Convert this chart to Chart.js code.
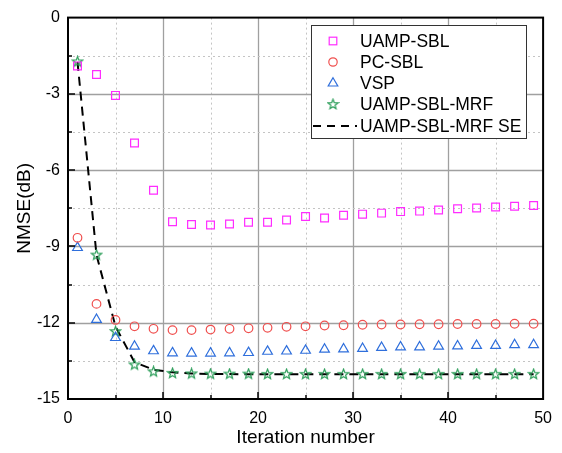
<!DOCTYPE html>
<html>
<head>
<meta charset="utf-8">
<script src="https://cdn.jsdelivr.net/npm/chart.js@4.4.1/dist/chart.umd.min.js"></script>
<style>
  html, body { margin: 0; padding: 0; background: #fff; }
</style>
</head>
<body>
<canvas id="nmseChart" width="562" height="453"></canvas>
<script>
// iterations (odd steps only) and NMSE in dB per algorithm
const iterations = [1, 3, 5, 7, 9, 11, 13, 15, 17, 19, 21, 23, 25, 27, 29, 31, 33, 35, 37, 39, 41, 43, 45, 47, 49];
const uampSbl = [-1.90, -2.24, -3.06, -4.93, -6.79, -8.03, -8.14, -8.16, -8.12, -8.05, -8.05, -7.96, -7.82,
                 -7.88, -7.77, -7.73, -7.69, -7.63, -7.61, -7.57, -7.52, -7.49, -7.45, -7.42, -7.39];
const pcSbl = [-8.66, -11.26, -11.89, -12.14, -12.24, -12.29, -12.29, -12.27, -12.24, -12.22, -12.20, -12.16, -12.14,
               -12.11, -12.10, -12.08, -12.07, -12.07, -12.06, -12.06, -12.05, -12.05, -12.05, -12.04, -12.04];
const vsp = [-9.05, -11.88, -12.59, -12.93, -13.11, -13.19, -13.20, -13.20, -13.19, -13.18, -13.13, -13.12, -13.09,
             -13.05, -13.04, -13.02, -12.98, -12.96, -12.96, -12.93, -12.92, -12.90, -12.90, -12.87, -12.87];
const uampSblMrf = [-1.74, -9.34, -12.35, -13.66, -13.93, -13.99, -14.01, -14.02, -14.02, -14.02, -14.03, -14.03, -14.03,
                    -14.03, -14.03, -14.03, -14.03, -14.03, -14.03, -14.03, -14.03, -14.03, -14.03, -14.03, -14.03];
const uampSblMrfSe = [-1.74, -9.34, -12.15, -13.55, -13.85, -13.95, -14.00, -14.02, -14.02, -14.03, -14.03, -14.03, -14.03,
                      -14.03, -14.03, -14.03, -14.03, -14.03, -14.03, -14.03, -14.03, -14.03, -14.03, -14.03, -14.03];

const xTicks = [0, 10, 20, 30, 40, 50];
const yTicks = [-15, -12, -9, -6, -3, 0];

const FONT = "'Liberation Sans', Arial, sans-serif";
const MAGENTA = '#ff2cff';
const RED = '#f0504f';
const BLUE = '#2f6fdc';
const GREEN = '#2a9d58';

// hollow five-pointed star, Chart.js only has the asterisk kind
function makeStar(size, rOut, rIn, color) {
  const c = document.createElement('canvas');
  c.width = size; c.height = size;
  const g = c.getContext('2d');
  g.strokeStyle = color;
  g.lineWidth = 1.2;
  g.beginPath();
  for (let i = 0; i < 10; i++) {
    const r = i % 2 ? rIn : rOut;
    const a = -Math.PI / 2 + i * Math.PI / 5;
    const px = size / 2 + r * Math.cos(a), py = size / 2 + r * Math.sin(a);
    i ? g.lineTo(px, py) : g.moveTo(px, py);
  }
  g.closePath();
  g.stroke();
  return c;
}
const starImg = makeStar(13, 5.2, 2.2, GREEN);

const pts = ys => iterations.map((x, i) => ({ x: x, y: ys[i] }));

function markerSet(label, ys, style, color, radius) {
  return {
    label: label,
    data: pts(ys),
    showLine: false,
    pointStyle: style,
    pointRadius: radius,
    pointHoverRadius: radius,
    borderColor: color,
    backgroundColor: 'rgba(0,0,0,0)',
    pointBorderWidth: 1.2
  };
}

const datasets = [
  {
    label: 'UAMP-SBL-MRF SE',
    data: pts(uampSblMrfSe),
    showLine: true,
    borderColor: '#000',
    borderWidth: 2,
    borderDash: [9, 6],
    pointRadius: 0,
    order: 5
  },
  markerSet('UAMP-SBL', uampSbl, 'rect', MAGENTA, 5.5),
  markerSet('PC-SBL', pcSbl, 'circle', RED, 4.3),
  markerSet('VSP', vsp, 'triangle', BLUE, 5.6),
  markerSet('UAMP-SBL-MRF', uampSblMrf, starImg, GREEN, 5)
];

// grid: solid at labelled ticks, dotted halfway between
const gridPlugin = {
  id: 'gridLines',
  beforeDatasetsDraw(chart) {
    const { ctx, chartArea: a, scales: { x, y } } = chart;
    ctx.save();
    for (let v = 5; v < 50; v += 5) {
      const px = Math.round(x.getPixelForValue(v)) + 0.5;
      const major = v % 10 === 0;
      ctx.strokeStyle = major ? '#a0a0a0' : '#c4c4c4';
      ctx.lineWidth = major ? 1.3 : 1;
      ctx.setLineDash(major ? [] : [2, 3]);
      ctx.beginPath(); ctx.moveTo(px, a.top); ctx.lineTo(px, a.bottom); ctx.stroke();
    }
    for (let v = -13.5; v < 0; v += 1.5) {
      const py = Math.round(y.getPixelForValue(v)) + 0.5;
      const major = Math.abs(v % 3) < 1e-9;
      ctx.strokeStyle = major ? '#a0a0a0' : '#c4c4c4';
      ctx.lineWidth = major ? 1.3 : 1;
      ctx.setLineDash(major ? [] : [2, 3]);
      ctx.beginPath(); ctx.moveTo(a.left, py); ctx.lineTo(a.right, py); ctx.stroke();
    }
    ctx.restore();
  }
};

// box frame with inward ticks on the left and bottom
const framePlugin = {
  id: 'frame',
  afterDatasetsDraw(chart) {
    const { ctx, chartArea: a, scales: { x, y } } = chart;
    ctx.save();
    ctx.setLineDash([]);
    ctx.strokeStyle = '#000';
    ctx.lineWidth = 2;
    ctx.strokeRect(a.left, a.top, a.right - a.left, a.bottom - a.top);
    ctx.lineWidth = 1.5;
    for (let v = 5; v < 50; v += 5) {
      const px = Math.round(x.getPixelForValue(v));
      const len = v % 10 === 0 ? 7 : 4;
      ctx.beginPath(); ctx.moveTo(px, a.bottom); ctx.lineTo(px, a.bottom - len); ctx.stroke();
    }
    for (let v = -13.5; v < 0; v += 1.5) {
      const py = Math.round(y.getPixelForValue(v));
      const len = Math.abs(v % 3) < 1e-9 ? 7 : 4;
      ctx.beginPath(); ctx.moveTo(a.left, py); ctx.lineTo(a.left + len, py); ctx.stroke();
    }
    ctx.restore();
  }
};

// boxed legend in the upper right of the plot
const legendPlugin = {
  id: 'boxLegend',
  afterDraw(chart) {
    const { ctx } = chart;
    const box = { x: 311.5, y: 25.5, w: 215, h: 113 };
    const rowY = [41, 62, 83, 104.5, 126];
    const mx = 333, tx = 360;
    ctx.save();
    ctx.fillStyle = '#fff';
    ctx.fillRect(box.x, box.y, box.w, box.h);
    ctx.strokeStyle = '#333';
    ctx.lineWidth = 1;
    ctx.strokeRect(box.x, box.y, box.w, box.h);

    ctx.lineWidth = 1.2;
    // square
    ctx.strokeStyle = MAGENTA;
    ctx.strokeRect(mx - 3.8, rowY[0] - 3.8, 7.6, 7.6);
    // circle
    ctx.strokeStyle = RED;
    ctx.beginPath(); ctx.arc(mx, rowY[1], 4.2, 0, Math.PI * 2); ctx.stroke();
    // triangle
    ctx.strokeStyle = BLUE;
    ctx.beginPath();
    ctx.moveTo(mx, rowY[2] - 5.2);
    ctx.lineTo(mx + 4.8, rowY[2] + 3);
    ctx.lineTo(mx - 4.8, rowY[2] + 3);
    ctx.closePath(); ctx.stroke();
    // star
    ctx.drawImage(starImg, mx - 6.5, rowY[3] - 6.5);
    // dashed line
    ctx.strokeStyle = '#000';
    ctx.lineWidth = 2;
    ctx.setLineDash([8, 6]);
    ctx.beginPath(); ctx.moveTo(313, rowY[4]); ctx.lineTo(357, rowY[4]); ctx.stroke();
    ctx.setLineDash([]);

    ctx.fillStyle = '#000';
    ctx.font = '17.5px ' + FONT;
    ctx.textBaseline = 'middle';
    ctx.textAlign = 'left';
    datasets.slice(1).concat(datasets[0]).forEach((d, i) => ctx.fillText(d.label, tx, rowY[i] + 1));
    ctx.restore();
  }
};

new Chart(document.getElementById('nmseChart'), {
  type: 'scatter',
  data: { datasets: datasets },
  options: {
    responsive: false,
    devicePixelRatio: 1,
    animation: false,
    layout: { padding: { top: 15, right: 15, left: 0, bottom: 0 } },
    plugins: { legend: { display: false }, tooltip: { enabled: false } },
    scales: {
      x: {
        type: 'linear',
        min: 0,
        max: 50,
        afterBuildTicks: s => { s.ticks = xTicks.map(v => ({ value: v })); },
        afterFit: s => { s.height = 54; },
        grid: { display: false, drawTicks: false },
        border: { display: false },
        ticks: { color: '#000', font: { family: FONT, size: 16 }, padding: 10, maxRotation: 0 },
        title: { display: true, text: 'Iteration number', color: '#000',
                 font: { family: FONT, size: 19 }, padding: { top: 0, bottom: 4 } }
      },
      y: {
        type: 'linear',
        min: -15,
        max: 0,
        afterBuildTicks: s => { s.ticks = yTicks.map(v => ({ value: v })); },
        afterFit: s => { s.width = 68; },
        grid: { display: false, drawTicks: false },
        border: { display: false },
        ticks: { color: '#000', font: { family: FONT, size: 16 }, padding: 8 },
        title: { display: true, text: 'NMSE(dB)', color: '#000',
                 font: { family: FONT, size: 19 }, padding: { top: 13, bottom: 0 } }
      }
    }
  },
  plugins: [gridPlugin, framePlugin, legendPlugin]
});
</script>
</body>
</html>
